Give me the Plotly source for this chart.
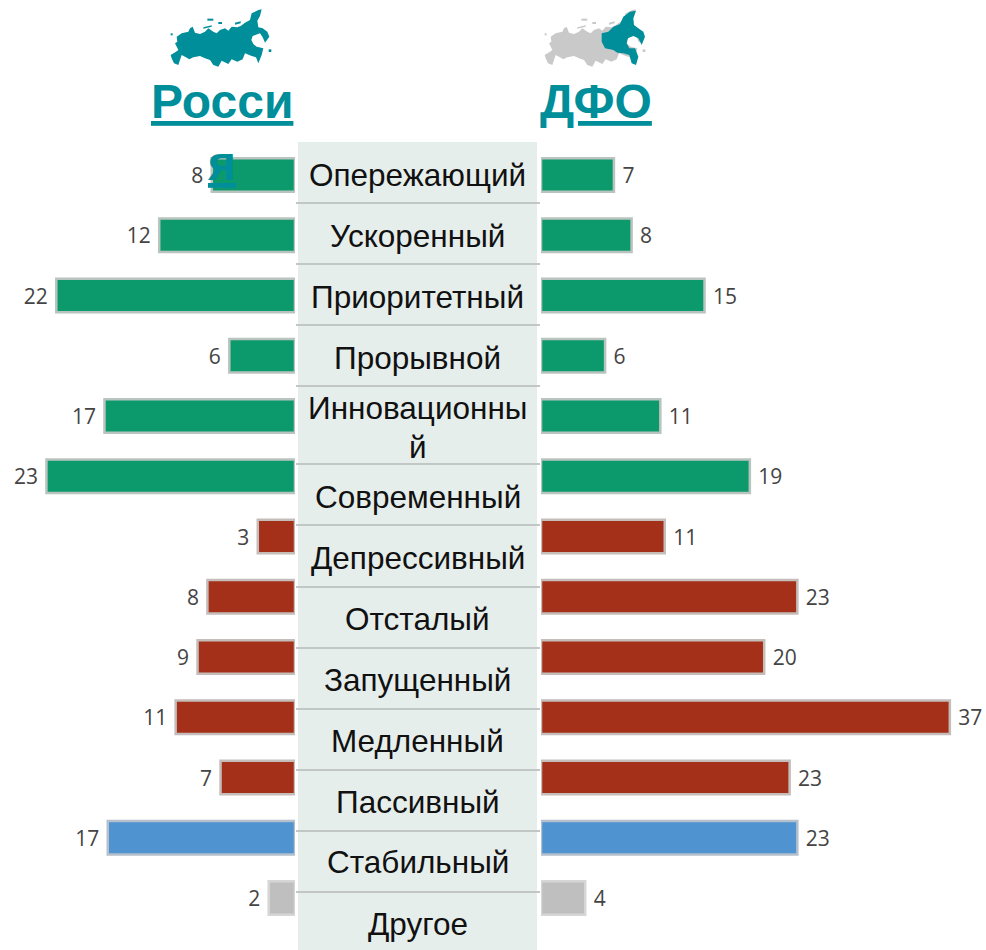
import plotly.graph_objects as go

W, H = 986, 950
categories = ["Опережающий", "Ускоренный", "Приоритетный", "Прорывной", "Инновационны<br>й", "Современный",
              "Депрессивный", "Отсталый", "Запущенный", "Медленный", "Пассивный", "Стабильный", "Другое"]
russia = [7.6, 12.4, 21.8, 6.0, 17.4, 22.7, 3.4, 8.0, 8.9, 10.9, 6.8, 17.1, 2.4]
dfo = [6.6, 8.2, 14.8, 5.8, 10.8, 18.9, 11.2, 23.2, 20.2, 37.0, 22.5, 23.2, 4.0]
groups = ["g"] * 6 + ["r"] * 5 + ["b", "x"]
group_colors = {"g": "#0C9A6C", "r": "#A5301A", "b": "#4F93D1", "x": "#BFBFBF"}
border_colors = {"g": "#BAC4BF", "r": "#C4BDBA", "b": "#B4C0CC", "x": "#D6D6D6"}
bar_colors = [group_colors[g] for g in groups]
bar_borders = [border_colors[g] for g in groups]
label_y_px = [175, 236, 297, 358, None, 497, 558, 619, 680, 741, 802, 862, 924]
sep_y_px = [203, 264, 325, 386, 464, 525, 587, 648, 709, 770, 831, 892]

TEAL = "#008E9B"
FONT = "Liberation Sans"
px = lambda x: x / W
py = lambda y: 1 - y / H

fig = go.Figure()
for vals, xa, ya, tmpl in ((russia, "x", "y", " %{x:.0f} "), (dfo, "x2", "y", " %{x:.0f}")):
    fig.add_trace(go.Bar(
        x=vals, y=categories, orientation="h", xaxis=xa, yaxis=ya,
        marker=dict(color=bar_colors, line=dict(color=bar_borders, width=2.5)),
        texttemplate=tmpl, textposition="outside", cliponaxis=False,
        textfont=dict(family="Open Sans", size=21, color="#444444"),
        hoverinfo="skip", showlegend=False,
    ))

LEFT_END, RIGHT_START = 295, 541
SCALE = 10.95
row0, step = 175, 60.25
fig.update_layout(
    width=W, height=H, margin=dict(l=0, r=0, t=0, b=0),
    paper_bgcolor="white", plot_bgcolor="rgba(0,0,0,0)",
    bargap=0.44, barmode="overlay",
    xaxis=dict(domain=[0, px(LEFT_END)], range=[LEFT_END / SCALE, 0], visible=False),
    xaxis2=dict(domain=[px(RIGHT_START), 1], range=[0, (W - RIGHT_START) / 11.05], visible=False),
    yaxis=dict(type="category", categoryorder="array", categoryarray=categories,
               range=[(H - row0) / step, -row0 / step], visible=False),
)

shapes = [dict(type="rect", xref="paper", yref="paper", x0=px(298), x1=px(537), y0=py(142), y1=0,
               fillcolor="#E6EEEB", line_width=0, layer="below")]
for s in sep_y_px:
    shapes.append(dict(type="line", xref="paper", yref="paper", x0=px(296), x1=px(540), y0=py(s), y1=py(s),
                       line=dict(color="#C2C7C5", width=2), layer="below"))

RUS = [(62,165),(78,155),(85,150),(75,130),(82,125),(80,110),(95,100),(115,95),(120,85),(128,80),(135,98),
       (150,102),(165,95),(175,85),(190,95),(200,100),(210,90),(225,85),(235,92),(245,80),(262,82),(272,78),
       (285,68),(300,60),(305,40),(325,30),(335,28),(330,48),(322,62),(325,82),(338,85),(352,95),(358,110),
       (345,128),(338,112),(330,100),(318,104),(308,108),(304,120),(310,132),(320,140),(340,145),(335,165),
       (325,190),(318,172),(305,168),(285,160),(278,178),(262,185),(245,178),(235,192),(215,182),(205,200),
       (190,195),(180,180),(165,175),(150,168),(130,172),(118,178),(105,170),(95,165),(85,195),(72,190),(65,175)]
DFO = [(215,100),(235,95),(250,80),(270,72),(280,50),(300,35),(318,32),(310,55),(312,75),(325,85),(340,95),
       (345,110),(335,135),(325,115),(310,108),(294,115),(290,130),(298,145),(315,145),(325,170),(318,195),
       (305,190),(298,165),(280,160),(262,158),(250,150),(225,145),(215,125)]
ISLES = [[(62,100),(68,100),(68,106),(62,106)], [(172,56),(190,56),(190,62),(172,62)],
         [(205,66),(216,66),(216,72),(205,72)], [(255,68),(272,64),(272,70),(255,74)],
         [(356,148),(364,148),(364,156),(356,156)], [(160,82),(185,76),(185,80),(160,86)]]

def path(points, ox, oy=0):
    return "M " + " L ".join(f"{px(ox + a / 3):.5f},{py(oy + b / 3):.5f}" for a, b in points) + " Z"

def add_map(ox, color):
    for pts in [RUS] + ISLES:
        shapes.append(dict(type="path", xref="paper", yref="paper", path=path(pts, ox),
                           fillcolor=color, line_width=0))

add_map(150, TEAL)
add_map(524, "#C9C9C9")
shapes.append(dict(type="path", xref="paper", yref="paper", path=path(DFO, 530), fillcolor=TEAL, line_width=0))
fig.update_layout(shapes=shapes)

ann = []
for c, y in zip(categories, label_y_px):
    if y is None:
        ann.append(dict(text="Инновационны", x=px(417.5), y=py(408)))
        ann.append(dict(text="й", x=px(417.5), y=py(447)))
    else:
        ann.append(dict(text=c, x=px(417.5), y=py(y)))
for a in ann:
    a.update(xref="paper", yref="paper", xanchor="center", yanchor="middle", showarrow=False,
             font=dict(family=FONT, size=31.5, color="#111111"))
for t, x, y in (("Росси", 222, 101), ("ДФО", 595.5, 101), ("я", 221, 163)):
    ann.append(dict(text=f"<b><u>{t}</u></b>", x=px(x), y=py(y), xref="paper", yref="paper",
                    xanchor="center", yanchor="middle", showarrow=False,
                    font=dict(family=FONT, size=48, color=TEAL)))
fig.update_layout(annotations=ann)

fig.write_html("out.html", config={"displayModeBar": False},
               post_script="document.body.style.margin='0';document.body.style.overflow='hidden';")
